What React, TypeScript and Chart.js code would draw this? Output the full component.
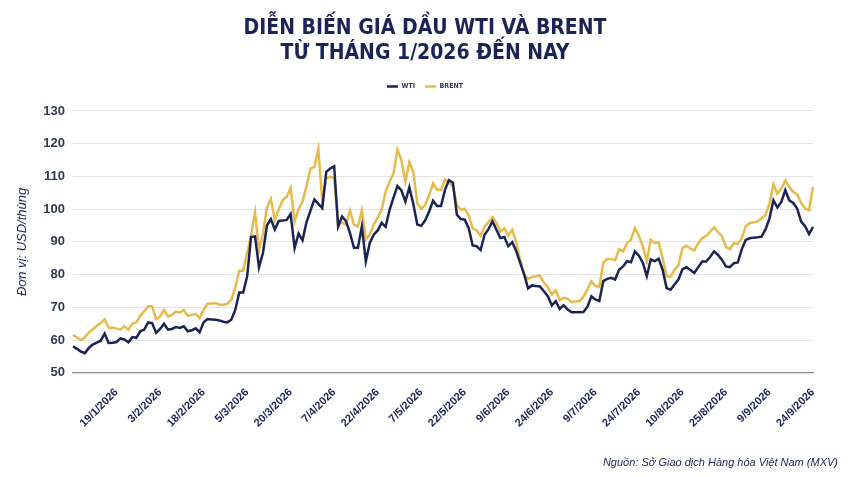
import React, { useEffect, useRef } from "react";
import { Chart, registerables } from "chart.js";

Chart.register(...registerables);

// Trading days: 2/1/2026 -> 24/9/2026 (weekends and two holidays skipped)
const START_DATE = [2026, 0, 2];
const END_DATE = [2026, 8, 24];
const HOLIDAYS = ["3/4/2026", "25/5/2026"];

const TICK_LABELS = [
  "19/1/2026", "3/2/2026", "18/2/2026", "5/3/2026", "20/3/2026", "7/4/2026",
  "22/4/2026", "7/5/2026", "22/5/2026", "9/6/2026", "24/6/2026", "9/7/2026",
  "24/7/2026", "10/8/2026", "25/8/2026", "9/9/2026", "24/9/2026"
];

const WTI = [
  58.1, 57.3, 56.5, 56.0, 57.6, 58.6, 59.2, 59.8, 62.0, 59.1,
  59.2, 59.4, 60.5, 60.2, 59.3, 60.9, 60.7, 62.7, 63.2, 65.4,
  65.2, 62.2, 63.4, 65.0, 63.2, 63.4, 64.0, 63.7, 64.2, 62.7,
  63.0, 63.6, 62.4, 65.4, 66.4, 66.3, 66.2, 66.0, 65.6, 65.4,
  66.2, 69.2, 74.5, 74.5, 79.4, 91.5, 91.7, 82.2, 86.6, 95.0,
  97.0, 93.8, 96.4, 96.5, 96.7, 98.5, 88.1, 92.6, 90.5, 96.0,
  99.5, 103.0, 101.6, 100.3, 111.4, 112.4, 113.1, 94.7, 97.8, 96.3,
  92.7, 88.2, 88.2, 94.7, 84.1, 89.7, 92.2, 93.5, 95.8, 94.6,
  99.8, 103.5, 107.1, 105.7, 102.3, 106.7, 101.6, 95.3, 94.9, 96.6,
  99.3, 102.6, 101.0, 101.0, 105.9, 108.9, 108.1, 98.3, 97.0, 96.8,
  94.2, 88.9, 88.7, 87.5, 92.2, 93.9, 96.3, 93.7, 91.2, 91.5,
  88.7, 89.9, 87.2, 83.6, 80.1, 75.8, 76.7, 76.5, 76.4, 74.9,
  73.4, 70.6, 71.9, 69.5, 70.6, 69.3, 68.5, 68.5, 68.5, 68.6,
  70.2, 73.4, 72.4, 71.9, 78.0, 78.7, 79.0, 78.5, 81.5, 82.5,
  84.1, 83.8, 87.1, 85.8, 83.6, 79.5, 84.6, 84.1, 84.8, 81.5,
  75.9, 75.4, 77.0, 78.5, 81.6, 82.3, 81.4, 80.5, 82.3, 84.0,
  84.0, 85.4, 87.1, 86.0, 84.5, 82.5, 82.3, 83.5, 83.7, 87.8,
  90.6, 91.1, 91.3, 91.4, 91.6, 93.8, 97.2, 102.7, 100.5, 102.2,
  105.8, 102.7, 101.9, 100.2, 96.2, 94.8, 92.4, 94.6
];

const BRENT = [
  61.6, 60.8, 60.0, 60.8, 62.3, 63.3, 64.3, 65.2, 66.4, 63.7,
  63.8, 63.5, 63.2, 64.2, 63.2, 65.0, 65.4, 67.4, 68.8, 70.3,
  70.3, 66.4, 67.2, 69.2, 67.2, 67.7, 68.7, 68.4, 69.2, 67.4,
  67.7, 68.0, 66.7, 69.2, 71.1, 71.2, 71.3, 70.8, 70.8, 71.1,
  72.3, 76.0, 81.2, 81.2, 86.5, 92.0, 99.1, 87.5, 92.5, 100.4,
  103.1, 96.7, 100.0, 102.8, 103.8, 106.5, 96.2, 100.0, 102.3, 107.0,
  112.4, 112.9, 118.5, 102.3, 109.4, 109.9, 109.4, 95.3, 95.8, 95.3,
  99.6, 95.3, 94.7, 99.6, 90.7, 92.2, 95.3, 97.5, 99.8, 105.4,
  108.4, 110.9, 118.2, 114.9, 108.4, 114.4, 111.4, 101.8, 100.1, 101.3,
  104.3, 107.9, 105.9, 105.9, 109.1, 108.1, 106.9, 101.3, 99.8, 100.1,
  98.0, 94.2, 93.5, 91.9, 94.7, 96.0, 97.6, 95.8, 93.2, 94.2,
  91.9, 93.7, 89.9, 84.6, 80.0, 78.7, 79.3, 79.5, 79.7, 77.5,
  76.2, 73.9, 75.2, 72.2, 72.9, 72.6, 71.6, 71.9, 71.9, 73.2,
  75.5, 78.0, 76.6, 76.2, 83.6, 84.8, 84.8, 84.4, 87.8, 87.1,
  89.6, 90.7, 94.2, 91.9, 88.6, 84.1, 90.7, 89.6, 89.8, 85.1,
  79.5, 79.3, 81.5, 82.8, 88.1, 88.8, 88.0, 87.4, 89.6, 91.1,
  91.8, 93.1, 94.4, 93.0, 91.8, 88.4, 87.8, 89.6, 89.4, 91.1,
  94.8, 95.7, 96.0, 96.2, 97.2, 98.2, 101.7, 107.6, 104.7, 106.3,
  108.8, 106.8, 105.3, 104.5, 101.9, 100.2, 99.7, 106.8
];

const NAVY = "#1b2455";
const GOLD = "#e6bb4c";

function tradingDays(): string[] {
  const out: string[] = [];
  const d = new Date(START_DATE[0], START_DATE[1], START_DATE[2]);
  const end = new Date(END_DATE[0], END_DATE[1], END_DATE[2]);
  while (d <= end) {
    const wd = d.getDay();
    const s = `${d.getDate()}/${d.getMonth() + 1}/${d.getFullYear()}`;
    if (wd !== 0 && wd !== 6 && !HOLIDAYS.includes(s)) out.push(s);
    d.setDate(d.getDate() + 1);
  }
  return out;
}

// extra room under the legend so the plot starts lower
const legendSpacer = {
  id: "legendSpacer",
  beforeInit(chart: any) {
    const origFit = chart.legend.fit;
    chart.legend.fit = function () {
      origFit.bind(this)();
      this.height += 11;
    };
  }
};

const OilChart: React.FC = () => {
  const chartRef = useRef<HTMLCanvasElement>(null);
  const chartInstance = useRef<Chart>();

  useEffect(() => {
    document.body.style.margin = "0";
    if (!chartRef.current) return;
    const ctx = chartRef.current.getContext("2d");
    if (!ctx) return;
    if (chartInstance.current) chartInstance.current.destroy();

    const labels = tradingDays();

    chartInstance.current = new Chart(ctx, {
      type: "line",
      plugins: [legendSpacer],
      data: {
        labels,
        datasets: [
          {
            label: "WTI",
            data: WTI,
            borderColor: NAVY,
            backgroundColor: NAVY,
            borderWidth: 2.5,
            pointRadius: 0,
            tension: 0
          },
          {
            label: "BRENT",
            data: BRENT,
            borderColor: GOLD,
            backgroundColor: GOLD,
            borderWidth: 2.5,
            pointRadius: 0,
            tension: 0
          }
        ]
      },
      options: {
        animation: false,
        responsive: false,
        layout: { padding: { left: 12, right: 12, top: 0, bottom: 0 } },
        plugins: {
          title: {
            display: true,
            text: ["DIỄN BIẾN GIÁ DẦU WTI VÀ BRENT", "TỪ THÁNG 1/2026 ĐẾN NAY"],
            color: NAVY,
            font: {
              family: "'DejaVu Sans Condensed', 'Liberation Sans Narrow', Roboto, sans-serif",
              size: 21,
              weight: "bold",
              lineHeight: 1.19
            },
            padding: { top: 16, bottom: 7 }
          },
          subtitle: {
            display: true,
            position: "bottom",
            align: "end",
            text: "Nguồn: Sở Giao dịch Hàng hóa Việt Nam (MXV)",
            color: NAVY,
            font: { family: "'Liberation Sans', Arial, sans-serif", size: 11, style: "italic" },
            padding: { top: 0, bottom: 7 }
          },
          legend: {
            display: true,
            labels: {
              usePointStyle: true,
              pointStyle: "line",
              pointStyleWidth: 11,
              boxWidth: 11,
              boxHeight: 7,
              padding: 10,
              color: "#333a55",
              font: { family: "'DejaVu Sans Condensed', 'Liberation Sans', sans-serif", size: 7, weight: "bold" }
            }
          },
          tooltip: { enabled: false }
        },
        scales: {
          x: {
            grid: { display: false },
            border: { display: true, color: "#8a8a8a", width: 1.2 },
            ticks: {
              autoSkip: false,
              maxRotation: 45,
              minRotation: 45,
              padding: 5,
              color: NAVY,
              font: { family: "'Liberation Sans', Arial, sans-serif", size: 11, weight: "bold" },
              callback: function (_v: any, i: number) {
                const l = labels[i];
                return TICK_LABELS.includes(l) ? l : "";
              }
            },
            afterFit: (s: any) => {
              s.height = 84;
            }
          },
          y: {
            min: 50,
            max: 130,
            ticks: {
              stepSize: 10,
              padding: 8,
              color: "#2e3850",
              font: { family: "'Liberation Sans', Arial, sans-serif", size: 13, weight: "bold" }
            },
            grid: { color: "#e4e4e4", lineWidth: 1, drawTicks: false },
            border: { display: false },
            title: {
              display: true,
              text: "Đơn vị: USD/thùng",
              color: NAVY,
              font: { family: "'Liberation Sans', Arial, sans-serif", size: 13, style: "italic" },
              padding: { top: 3, bottom: 4 }
            },
            afterFit: (s: any) => {
              s.width = 61;
            }
          },
          yRight: {
            position: "right",
            display: true,
            grid: { display: false },
            border: { display: false },
            ticks: { display: false },
            afterFit: (s: any) => {
              s.width = 25;
            }
          }
        }
      }
    });

    return () => {
      if (chartInstance.current) {
        chartInstance.current.destroy();
        chartInstance.current = undefined;
      }
    };
  }, []);

  return (
    <div style={{ width: 850, height: 477, background: "#fff" }}>
      <canvas ref={chartRef} width={850} height={477} style={{ width: 850, height: 477 }} />
    </div>
  );
};

export default function App() {
  return <OilChart />;
}
